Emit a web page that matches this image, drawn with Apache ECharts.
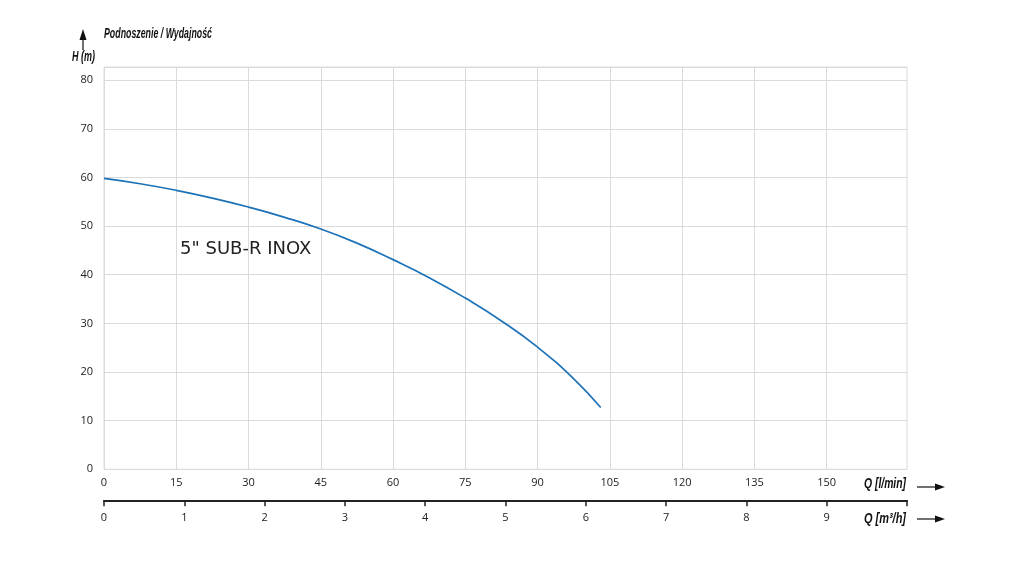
<!DOCTYPE html>
<html><head><meta charset="utf-8">
<script src="https://cdn.jsdelivr.net/npm/echarts@6/dist/echarts.min.js"></script>
<style>html,body{margin:0;padding:0;background:#fff}#c{width:1024px;height:567px}</style>
</head><body><div id="c"></div>
<script>
const flowLmin = [0, 7.5, 15, 22.5, 30, 37.5, 45, 52.5, 60, 67.5, 75, 82.5, 90, 97.5, 103.1];
const headM = [59.8, 58.7, 57.35, 55.75, 53.9, 51.8, 49.4, 46.5, 43.1, 39.4, 35.2, 30.5, 25.1, 18.6, 12.7];
const xTicksLmin = [0, 15, 30, 45, 60, 75, 90, 105, 120, 135, 150];
const xTicksM3h = [0, 1, 2, 3, 4, 5, 6, 7, 8, 9];
const yTicks = [0, 10, 20, 30, 40, 50, 60, 70, 80];
const seriesName = '5" SUB-R INOX';
const yTitle = 'Podnoszenie / Wydajność';
const yUnit = 'H (m)';
const x1Name = 'Q [l/min]';
const x2Name = 'Q [m³/h]';

const chart = echarts.init(document.getElementById('c'));
const capFont = '"Liberation Sans", Arial, sans-serif';
const lbl = {color: '#222', fontSize: 11, fontFamily: '"Open Sans", sans-serif'};

const cv = document.createElement('canvas').getContext('2d');
function condensed(text, x, y, width, align, size) {
  cv.font = 'italic bold ' + size + 'px ' + capFont;
  const w = cv.measureText(text).width;
  return {type: 'text', x: x, y: y, scaleX: width / w,
    style: {text: text, fontSize: size, fontStyle: 'italic', fontWeight: 'bold', fontFamily: capFont,
      fill: '#111', textAlign: align, textVerticalAlign: 'middle'}};
}
function arrow(x, y) {
  return {type: 'group', children: [
    {type: 'line', shape: {x1: x, y1: y, x2: x + 20, y2: y}, style: {stroke: '#111', lineWidth: 1.2}},
    {type: 'polygon', shape: {points: [[x + 18, y - 3.5], [x + 28, y], [x + 18, y + 3.5]]}, style: {fill: '#111'}}
  ]};
}

chart.setOption({
  animation: false,
  grid: {left: 104, right: 117, top: 67, bottom: 97.7, show: true, borderColor: '#dadada', borderWidth: 1},
  xAxis: [
    {type: 'value', min: 0, max: 500/3, interval: 15,
     axisLine: {show: false}, axisTick: {show: false},
     splitLine: {show: false},
     axisLabel: Object.assign({margin: 8, showMaxLabel: false,
       formatter: v => xTicksLmin.includes(v) ? String(v) : ''}, lbl)},
    {type: 'value', position: 'bottom', offset: 31, min: 0, max: 10, interval: 1,
     axisLine: {show: true, onZero: false, lineStyle: {color: '#222', width: 2}},
     axisTick: {show: true, length: 6, lineStyle: {color: '#222', width: 1.5}},
     splitLine: {show: false},
     axisLabel: Object.assign({margin: 12, formatter: v => xTicksM3h.includes(v) ? String(v) : ''}, lbl)}
  ],
  yAxis: {type: 'value', min: 0, max: 82.7, interval: 10,
    axisLine: {show: false}, axisTick: {show: false},
    splitLine: {show: true, lineStyle: {color: '#dadada', width: 1}},
    axisLabel: Object.assign({margin: 11, showMaxLabel: false,
      formatter: v => yTicks.includes(v) ? String(v) : ''}, lbl)},
  series: [
    {type: 'line', name: 'grid', xAxisIndex: 0, data: [], z: 1, silent: true,
     markLine: {silent: true, symbol: 'none', label: {show: false}, animation: false,
       lineStyle: {color: '#dadada', width: 1, type: 'solid'},
       data: xTicksLmin.map(v => ({xAxis: v}))}},
    {type: 'line', name: seriesName, xAxisIndex: 0, smooth: 0.5, symbol: 'none',
     lineStyle: {color: '#1c72b9', width: 1.7},
     data: flowLmin.map((q, i) => [q, headM[i]]), z: 5}
  ],
  graphic: [
    {type: 'text', left: 180, top: 240, style: {text: seriesName, fontSize: 18, fontFamily: '"DejaVu Sans", sans-serif', fill: '#222'}},
    condensed(yTitle, 104, 34, 108, 'left', 14),
    condensed(yUnit, 72, 57, 23, 'left', 14),
    {type: 'line', shape: {x1: 83, y1: 50, x2: 83, y2: 36}, style: {stroke: '#111', lineWidth: 1.2}},
    {type: 'polygon', shape: {points: [[79.5, 40], [83, 29], [86.5, 40]]}, style: {fill: '#111'}},
    condensed(x1Name, 906, 484, 42, 'right', 14),
    condensed(x2Name, 906, 519, 42, 'right', 14),
    arrow(917, 487),
    arrow(917, 519)
  ]
});
</script></body></html>
